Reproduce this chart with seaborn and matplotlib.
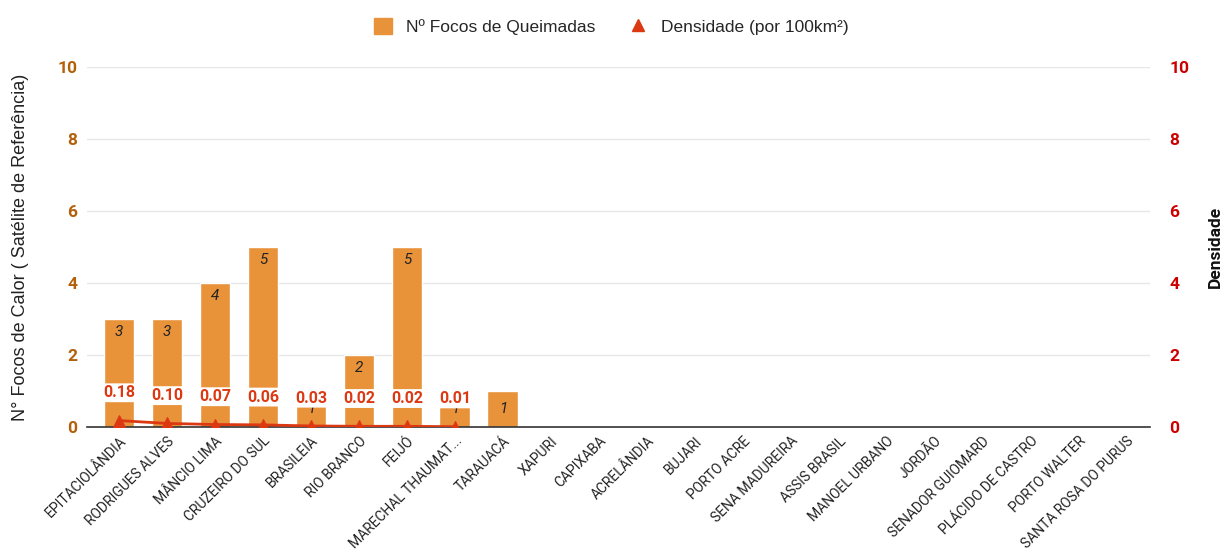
import pandas as pd
import matplotlib
matplotlib.use("Agg")
import matplotlib.pyplot as plt
import seaborn as sns
from matplotlib.lines import Line2D
from matplotlib.patches import Patch

municipios = ['EPITACIOLÂNDIA', 'RODRIGUES ALVES', 'MÂNCIO LIMA', 'CRUZEIRO DO SUL',
              'BRASILEIA', 'RIO BRANCO', 'FEIJÓ', 'MARECHAL THAUMAT...', 'TARAUACÁ',
              'XAPURI', 'CAPIXABA', 'ACRELÂNDIA', 'BUJARI', 'PORTO ACRE',
              'SENA MADUREIRA', 'ASSIS BRASIL', 'MANOEL URBANO', 'JORDÃO',
              'SENADOR GUIOMARD', 'PLÁCIDO DE CASTRO', 'PORTO WALTER', 'SANTA ROSA DO PURUS']
focos = [3, 3, 4, 5, 1, 2, 5, 1, 1, 0, 0, 0, 0, 0, 0, 0, 0, 0, 0, 0, 0, 0]
densidade = [0.18, 0.10, 0.07, 0.06, 0.03, 0.02, 0.02, 0.01]

bar_color = '#E8923A'
red = '#DC3912'

sns.set_style('white')
plt.rcParams['font.family'] = ['Roboto', 'DejaVu Sans']

df = pd.DataFrame({'municipio': municipios, 'focos': focos})
# posição numérica para a linha (mesma escala categórica das barras)
dens_df = pd.DataFrame({'pos': range(len(densidade)), 'densidade': densidade})

fig, ax = plt.subplots(figsize=(12.23, 5.51), dpi=100)
fig.subplots_adjust(left=0.071, right=0.940, top=0.878, bottom=0.225)
xlim = (-0.67, len(municipios) - 0.52)

sns.barplot(data=df, x='municipio', y='focos', color=bar_color, width=0.64,
            saturation=1, ax=ax, zorder=2)
ax.set_xlim(*xlim)
ax.set_ylim(0, 10)
ax.set_yticks(range(0, 11, 2))
ax.grid(axis='y', color='#E6E6E6', linewidth=1, zorder=0)
ax.set_axisbelow(True)
for s in ['top', 'right', 'left']:
    ax.spines[s].set_visible(False)
ax.spines['bottom'].set_color('#333333')
ax.spines['bottom'].set_linewidth(1.2)
ax.tick_params(axis='y', length=0, pad=7, labelsize=12.5, labelcolor='#B4600A')
for t in ax.get_yticklabels():
    t.set_fontweight('bold')
ax.tick_params(axis='x', length=0, pad=5)
ax.set_xticks(range(len(municipios)))
ax.set_xticklabels(municipios, rotation=45, ha='right', rotation_mode='anchor',
                   fontsize=10, color='#222222')
ax.set_xlabel('')
ax.set_ylabel('N° Focos de Calor ( Satélite de Referência)', fontsize=13,
              family=['Liberation Sans', 'DejaVu Sans'], color='#222222')
ax.yaxis.set_label_coords(-0.054, 0.5)

# rótulos das barras
for i, v in enumerate(focos):
    if v == 0:
        continue
    y = v - 0.35 if v >= 2 else v / 2
    ax.text(i, y, str(v), ha='center', va='center', style='italic',
            fontsize=11, color='#222222', zorder=3)

ax2 = ax.twinx()
sns.lineplot(data=dens_df, x='pos', y='densidade', color=red, linewidth=2,
             marker='^', markersize=9, markeredgecolor=red, ax=ax2, zorder=4)
ax2.set_xlim(*xlim)
ax2.set_ylim(0, 10)
ax2.set_yticks(range(0, 11, 2))
for s in ax2.spines.values():
    s.set_visible(False)
ax2.tick_params(axis='y', length=0, pad=14, labelsize=12.5, labelcolor='#CC0000')
for t in ax2.get_yticklabels():
    t.set_fontweight('bold')
ax2.set_ylabel('Densidade', fontsize=12.5, fontweight='bold', color='#111111')
ax2.yaxis.set_label_coords(1.055, 0.5)
ax2.set_xlabel('')
ax2.grid(False)

for i, d in enumerate(densidade):
    ax2.annotate(f'{d:.2f}', (i, d), xytext=(0, 20), textcoords='offset points',
                 ha='center', va='center', fontsize=11.5, fontweight='bold', color=red,
                 bbox=dict(boxstyle='round,pad=0.12', fc='white', ec='none'), zorder=5)

handles = [Patch(color=bar_color, label='Nº Focos de Queimadas'),
           Line2D([], [], color=red, marker='^', linestyle='none', markersize=9,
                  label='Densidade (por 100km²)')]
fig.legend(handles=handles, loc='upper center', bbox_to_anchor=(0.5, 0.995), ncol=2,
           frameon=False, handlelength=1, handleheight=1, columnspacing=2,
           prop={'family': ['Liberation Sans', 'DejaVu Sans'], 'size': 12.5})

fig.savefig('out.png', dpi=100)
